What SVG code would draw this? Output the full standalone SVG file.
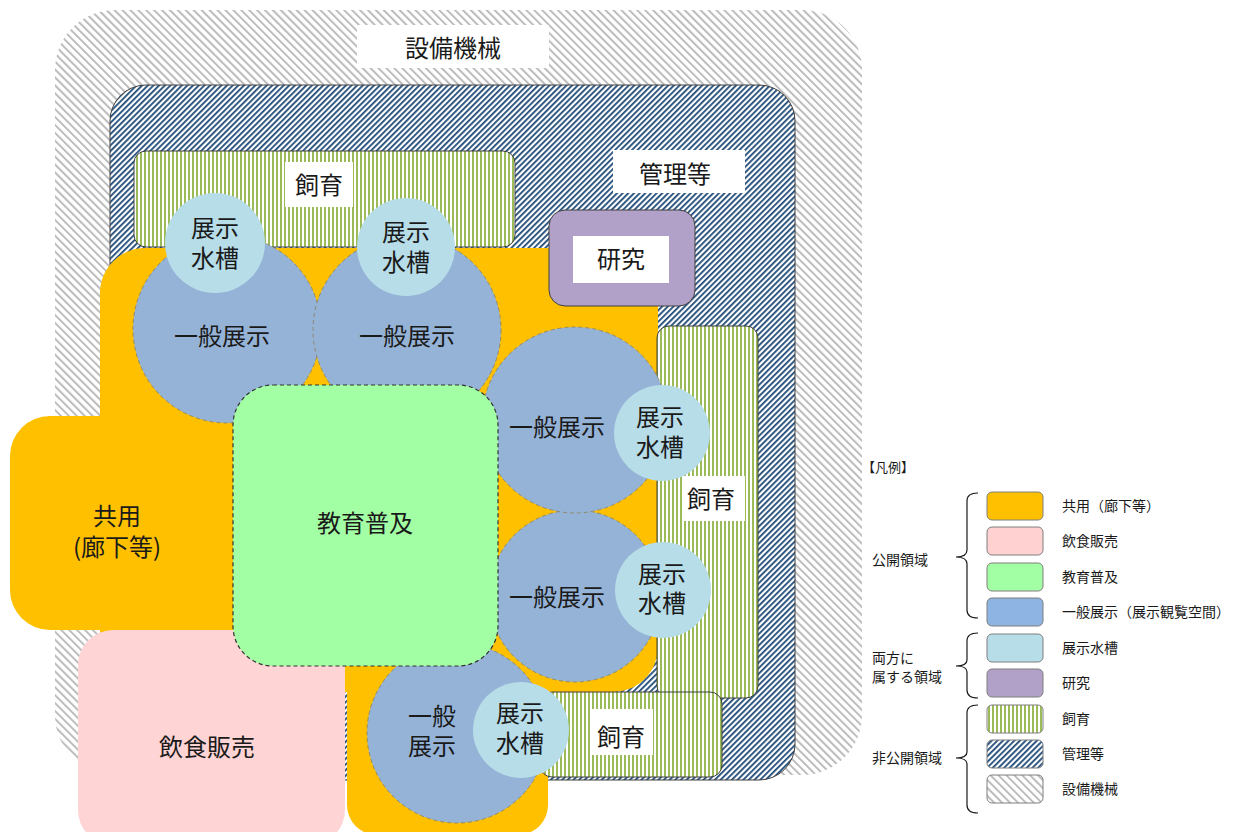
<svg xmlns="http://www.w3.org/2000/svg" width="1246" height="832" viewBox="0 0 1246 832">
<defs>
<pattern id="pGray" patternUnits="userSpaceOnUse" width="5.6" height="5.6" patternTransform="rotate(-45)">
<rect width="5.6" height="5.6" fill="#fff"/><rect width="2" height="5.6" fill="#bcbcbc"/>
</pattern>
<pattern id="pNavy" patternUnits="userSpaceOnUse" width="4" height="4" patternTransform="rotate(45)">
<rect width="4" height="4" fill="#fff"/><rect width="1.8" height="4" fill="#1f4a78"/>
</pattern>
<pattern id="pGreen" patternUnits="userSpaceOnUse" width="4" height="4">
<rect width="4" height="4" fill="#fff"/><rect width="2" height="4" fill="#9bbb59"/>
</pattern>
</defs>
<style>
text{font-family:"Noto Sans CJK JP","Noto Sans",sans-serif;fill:#1a1a1a;text-anchor:middle;dominant-baseline:central}
.big{font-size:24px}
.lg{font-size:14px;text-anchor:start}
.box{stroke:#404040;stroke-width:1}
.circ{fill:#95b3d7;stroke:#8e8a70;stroke-width:1;stroke-dasharray:4 3}
.tank{fill:#b7dde8}
.lbl{fill:#fff}
.leg{stroke:#7f7f7f;stroke-width:1}
.brace{fill:none;stroke:#1a1a1a;stroke-width:1.2}
</style>

<g id="setsubi">
<rect x="55" y="10" width="807" height="765" rx="60" fill="url(#pGray)"/>
<rect class="lbl" x="357" y="25" width="192" height="43"/>
<text class="big" x="453" y="46">設備機械</text>
</g>

<g id="kanri">
<rect class="box" x="110" y="85" width="685" height="695" rx="36" fill="url(#pNavy)"/>
<rect class="lbl" x="613" y="150" width="132" height="43"/>
<text class="big" x="675" y="172">管理等</text>
</g>

<g id="shiiku-top">
<rect class="box" x="134" y="151" width="381" height="96" rx="12" fill="url(#pGreen)"/>
<rect class="lbl" x="285" y="162" width="68" height="45"/>
<text class="big" x="319" y="183">飼育</text>
</g>

<g id="kyoyo">
<rect x="100" y="248" width="558" height="444" rx="45" fill="#ffc000"/>
<rect x="10" y="416" width="240" height="214" rx="40" fill="#ffc000"/>
<rect x="347" y="600" width="201" height="235" rx="30" fill="#ffc000"/>
<text class="big" x="117" y="514"><tspan x="117">共用</tspan><tspan x="117" dy="31">(廊下等)</tspan></text>
</g>

<g id="kenkyu">
<rect class="box" x="549" y="210" width="146" height="96" rx="16" fill="#b1a0c7"/>
<rect class="lbl" x="573" y="236" width="96" height="47"/>
<text class="big" x="621" y="257">研究</text>
</g>

<g id="shiiku-right">
<rect class="box" x="657" y="326" width="101" height="372" rx="12" fill="url(#pGreen)"/>
<rect class="lbl" x="684" y="476" width="61" height="45"/>
<text class="big" x="711" y="497">飼育</text>
</g>

<g id="shiiku-bottom">
<rect class="box" x="540" y="692" width="182" height="85" rx="12" fill="url(#pGreen)"/>
<rect class="lbl" x="592" y="709" width="61" height="46"/>
<text class="big" x="621" y="735">飼育</text>
</g>

<g id="inshoku">
<rect x="78" y="630" width="267" height="215" rx="35" fill="#ffd4d4"/>
<text class="big" x="207" y="745">飲食販売</text>
</g>

<g id="ippan1"><circle class="circ" cx="227" cy="329" r="94"/><text class="big" x="222" y="334">一般展示</text></g>
<g id="ippan2"><circle class="circ" cx="407" cy="330" r="94"/><text class="big" x="407" y="334">一般展示</text></g>
<g id="ippan4"><circle class="circ" cx="575" cy="596" r="86"/><text class="big" x="557" y="595">一般展示</text></g>
<g id="ippan3"><circle class="circ" cx="575" cy="420" r="93"/><text class="big" x="557" y="425">一般展示</text></g>
<g id="ippan5"><circle class="circ" cx="457" cy="733" r="90"/><text class="big" x="432" y="714"><tspan x="432">一般</tspan><tspan x="432" dy="30">展示</tspan></text></g>

<g id="kyoiku">
<rect x="233" y="385" width="265" height="281" rx="40" fill="#a3ffa3" stroke="#333" stroke-width="1.2" stroke-dasharray="4 3"/>
<text class="big" x="365" y="521">教育普及</text>
</g>

<g id="suiso1"><circle class="tank" cx="215" cy="243" r="50"/><text class="big" x="215" y="226"><tspan x="215">展示</tspan><tspan x="215" dy="30">水槽</tspan></text></g>
<g id="suiso2"><circle class="tank" cx="406" cy="247" r="49"/><text class="big" x="406" y="230"><tspan x="406">展示</tspan><tspan x="406" dy="30">水槽</tspan></text></g>
<g id="suiso3"><circle class="tank" cx="662" cy="433" r="48"/><text class="big" x="660" y="415"><tspan x="660">展示</tspan><tspan x="660" dy="30">水槽</tspan></text></g>
<g id="suiso4"><circle class="tank" cx="663" cy="590" r="48"/><text class="big" x="662" y="572"><tspan x="662">展示</tspan><tspan x="662" dy="29">水槽</tspan></text></g>
<g id="suiso5"><circle class="tank" cx="521" cy="730" r="48"/><text class="big" x="520" y="711"><tspan x="520">展示</tspan><tspan x="520" dy="30">水槽</tspan></text></g>

<g id="connectors"></g>

<g id="legend">
<text x="862" y="466" style="font-size:13px;text-anchor:start">【凡例】</text>
<path class="brace" d="M978,493 Q967,493 967,501 L967,550 Q967,557 956,557 Q967,557 967,564 L967,610 Q967,618 978,618"/>
<path class="brace" d="M978,633 Q967,633 967,641 L967,660 Q967,666 956,666 Q967,666 967,672 L967,690 Q967,698 978,698"/>
<path class="brace" d="M978,705 Q967,705 967,713 L967,752 Q967,758 956,758 Q967,758 967,764 L967,805 Q967,813 978,813"/>
<text class="lg" x="872" y="559">公開領域</text>
<text class="lg" x="872" y="657"><tspan x="872">両方に</tspan><tspan x="872" dy="19">属する領域</tspan></text>
<text class="lg" x="872" y="757">非公開領域</text>
<rect class="leg" x="987" y="492" width="56" height="28" rx="5" fill="#ffc000"/>
<rect class="leg" x="987" y="527" width="56" height="28" rx="5" fill="#ffd1d1"/>
<rect class="leg" x="987" y="563" width="56" height="28" rx="5" fill="#a3ffa3"/>
<rect class="leg" x="987" y="598" width="56" height="28" rx="5" fill="#8db4e2"/>
<rect class="leg" x="987" y="634" width="56" height="28" rx="5" fill="#b7dde8"/>
<rect class="leg" x="987" y="669" width="56" height="28" rx="5" fill="#b1a0c7"/>
<rect class="leg" x="987" y="705" width="56" height="28" rx="5" fill="url(#pGreen)"/>
<rect class="leg" x="987" y="740" width="56" height="28" rx="5" fill="url(#pNavy)"/>
<rect class="leg" x="987" y="775" width="56" height="28" rx="5" fill="url(#pGray)"/>
<text class="lg" x="1062" y="505">共用（廊下等）</text>
<text class="lg" x="1062" y="540">飲食販売</text>
<text class="lg" x="1062" y="576">教育普及</text>
<text class="lg" x="1062" y="611">一般展示（展示観覧空間）</text>
<text class="lg" x="1062" y="647">展示水槽</text>
<text class="lg" x="1062" y="682">研究</text>
<text class="lg" x="1062" y="718">飼育</text>
<text class="lg" x="1062" y="753">管理等</text>
<text class="lg" x="1062" y="788">設備機械</text>
</g>
</svg>
